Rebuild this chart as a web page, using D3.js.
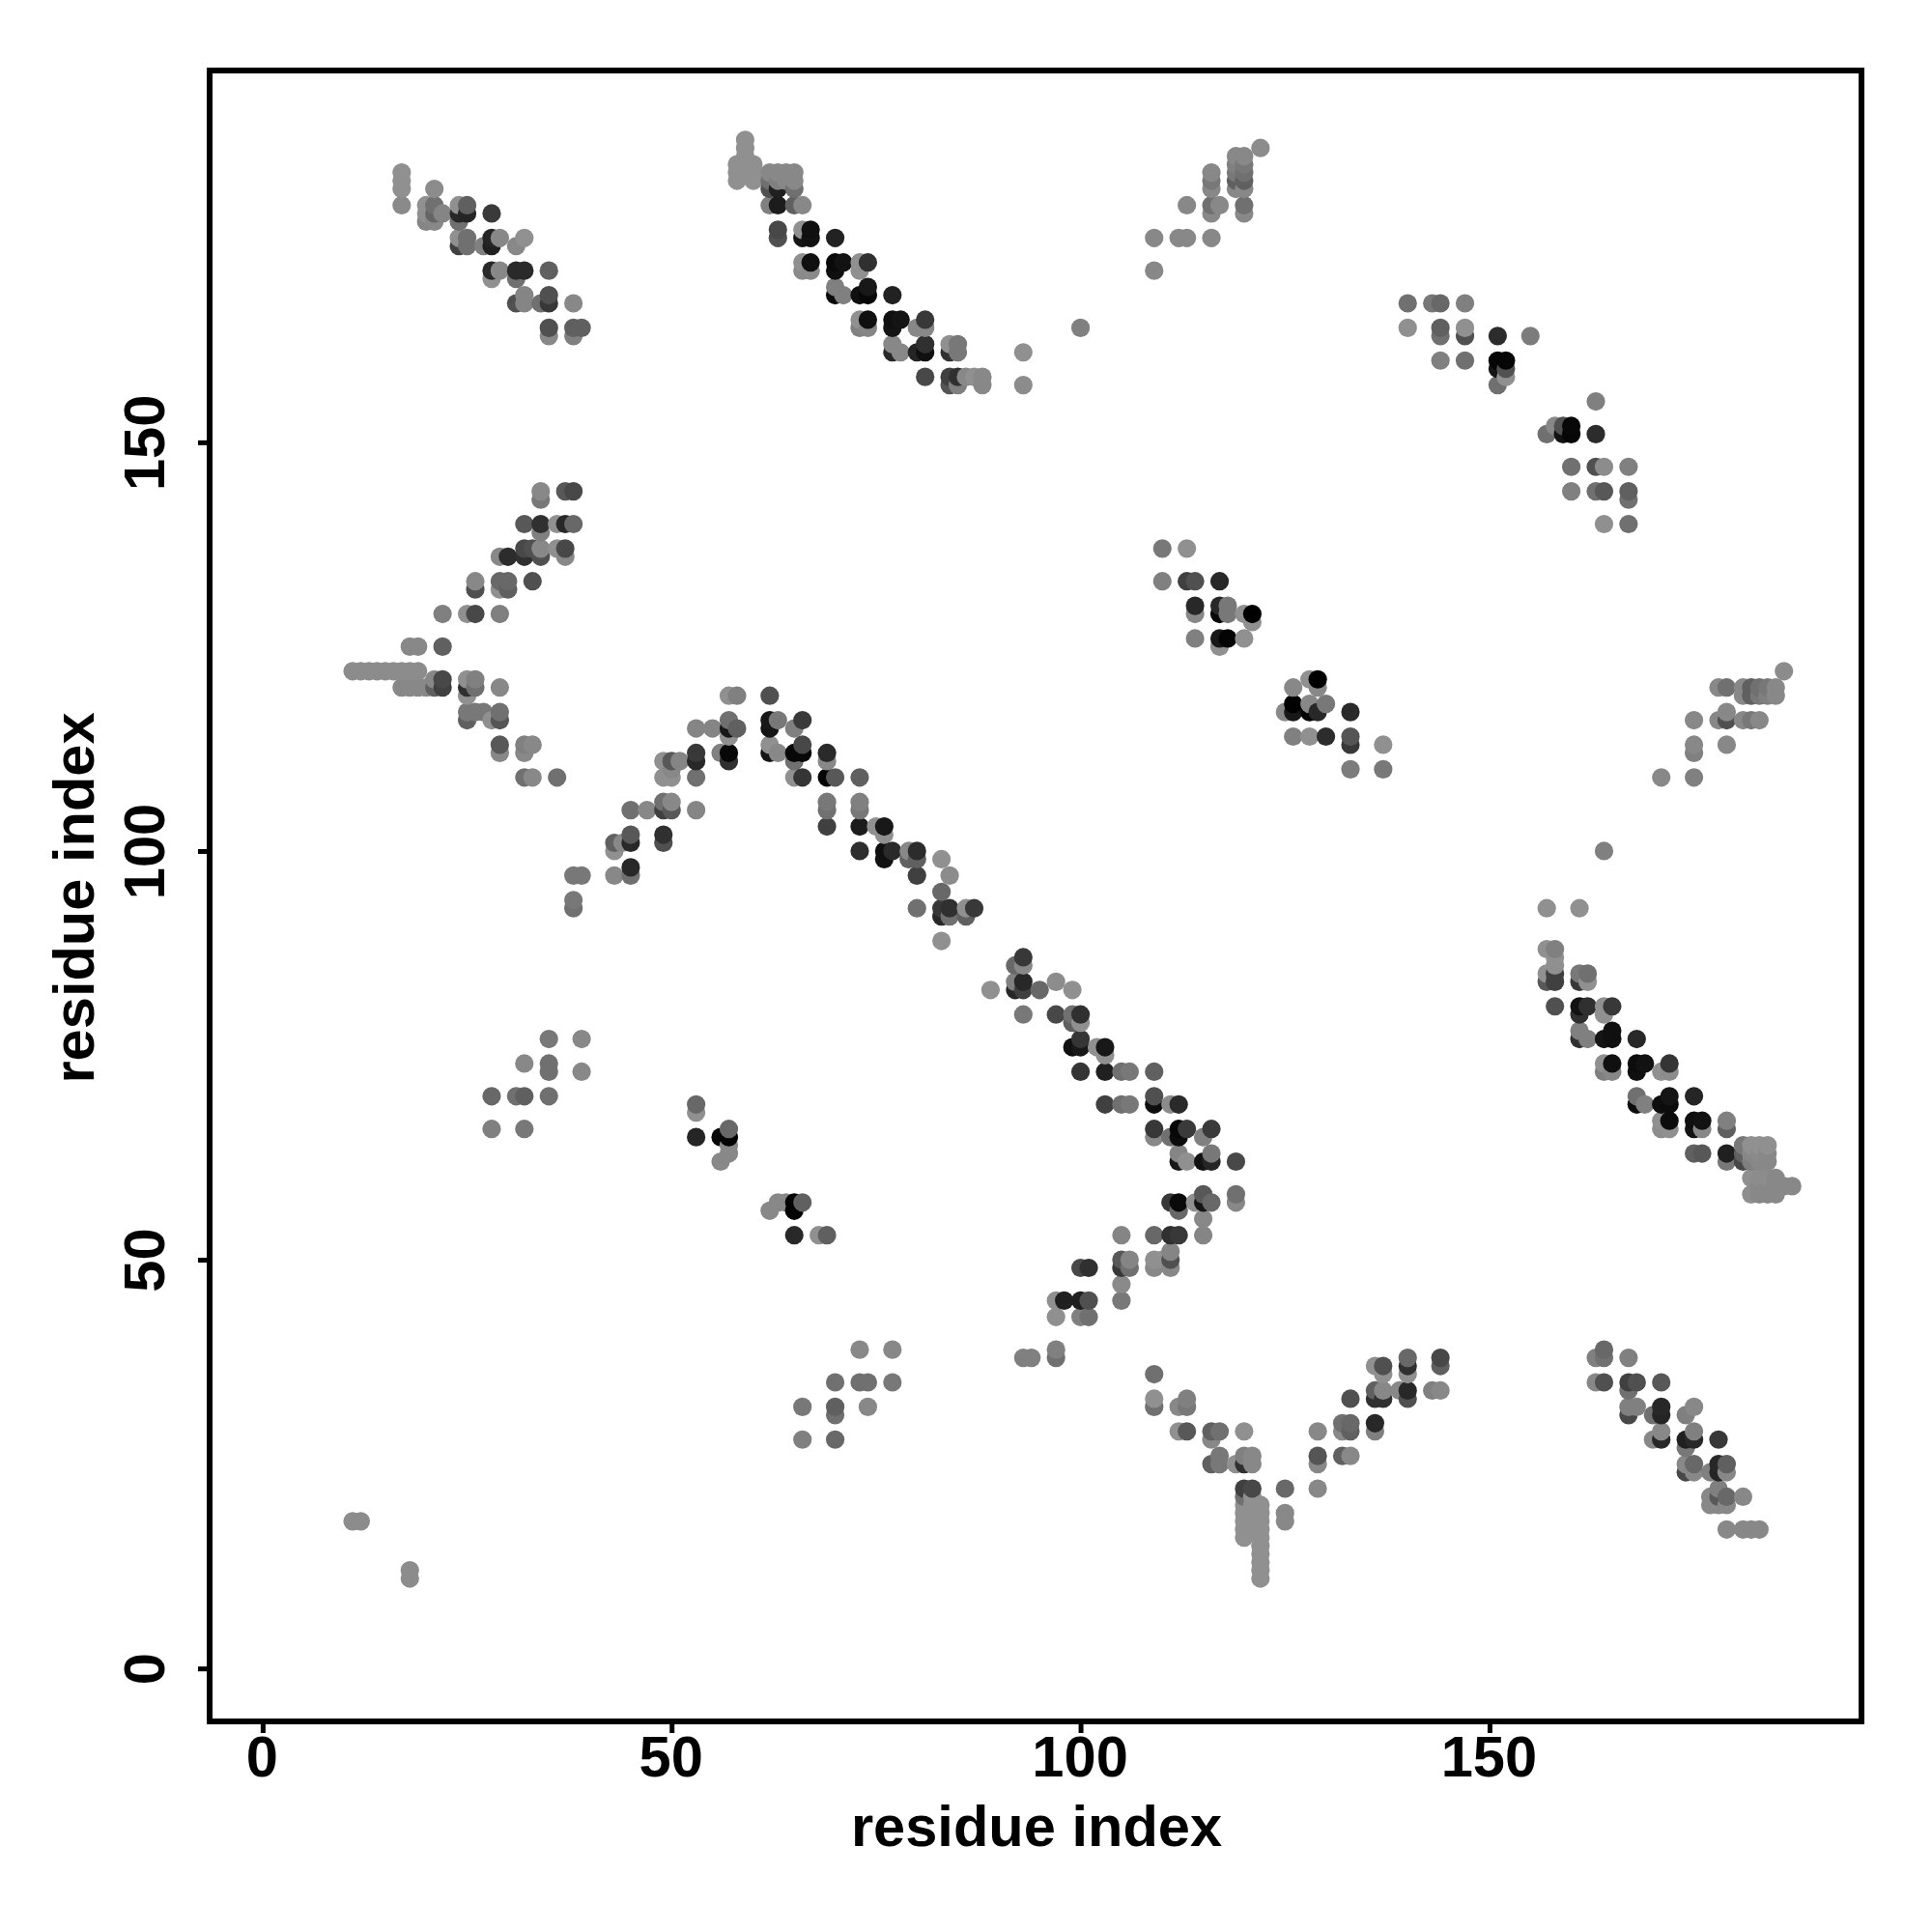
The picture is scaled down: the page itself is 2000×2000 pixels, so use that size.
<!DOCTYPE html>
<html><head><meta charset="utf-8">
<style>html,body{margin:0;padding:0;background:#fff}svg{display:block}text{font-family:"Liberation Sans",Arial,sans-serif;font-weight:bold;fill:#000}</style>
<script src="https://cdnjs.cloudflare.com/ajax/libs/d3/7.8.5/d3.min.js"></script>
</head><body><svg id="c" width="2000" height="2000"></svg>
<script>
// [residue x, residue y, grey score]
const blockTopLeft=[[17,183,0x90],[17,182,0x90],[17,181,0x90],[17,179,0x8a],[21,181,0x8c],[20,179,0x90],[20,178,0x90],[20,177,0x85],[21,179,0x70],[21,178,0x65],[21,177,0x88],[22,178,0x85],[24,179,0x90],[25,179,0x60],[24,178,0x28],[25,178,0x25],[24,177,0x70],[28,178,0x3a],[24,175,0x90],[25,175,0x70],[24,174,0x40],[25,174,0x70],[27,174,0x80],[28,175,0x25],[28,174,0x20],[29,175,0x88],[31,174,0x88],[32,175,0x90],[28,171,0x28],[28,170,0x90],[29,171,0x88],[31,171,0x2a],[32,171,0x2a],[31,170,0x70],[35,171,0x60],[32,168,0x85],[32,167,0x85],[31,167,0x50],[34,167,0x70],[35,168,0x50],[35,167,0x38],[38,167,0x88],[35,164,0x50],[35,163,0x88],[38,164,0x60],[39,164,0x60],[38,163,0x80]];
const blockTopMiddle=[[59,187,0x90],[59,186,0x90],[59,185,0x90],[58,184,0x90],[58,183,0x90],[58,182,0x90],[59,184,0x90],[59,183,0x90],[60,184,0x90],[60,183,0x90],[60,182,0x90],[62,183,0x88],[62,182,0x70],[62,181,0x50],[63,183,0x88],[63,182,0x80],[63,181,0x20],[64,183,0x88],[64,182,0x88],[65,183,0x88],[65,182,0x88],[65,181,0x70],[62,179,0x80],[63,179,0x1c],[65,179,0x60],[66,179,0x88],[63,176,0x48],[63,175,0x50],[66,176,0x90],[67,176,0x10],[66,175,0x15],[67,175,0x12],[70,175,0x22],[66,172,0x90],[67,172,0x10],[66,171,0x8a],[67,171,0x8a],[70,172,0x0a],[71,172,0x12],[70,171,0x10],[73,172,0x90],[74,172,0x30],[73,171,0x90],[70,169,0x80],[70,168,0x0a],[71,168,0x80],[74,169,0x18],[73,168,0x10],[74,168,0x08],[77,168,0x22],[73,165,0x90],[74,165,0x10],[73,164,0x80],[74,164,0x85],[77,165,0x10],[78,165,0x15],[77,164,0x15],[81,165,0x38],[80,164,0x88],[81,164,0x88],[77,162,0x88],[77,161,0x28],[78,161,0x88],[80,161,0x25],[81,162,0x30],[81,161,0x10],[84,162,0x90],[85,162,0x78],[85,161,0x78],[84,161,0x30],[93,161,0x90],[100,164,0x80],[81,158,0x48],[84,158,0x40],[85,158,0x30],[84,157,0x55],[85,157,0x80],[86,158,0x88],[87,158,0x90],[88,158,0x88],[88,157,0x88],[93,157,0x8c]];
const blockArch=[[36,109,0x70],[38,97,0x78],[39,97,0x78],[38,94,0x78],[38,93,0x70],[43,101,0x60],[44,101,0x88],[43,100,0x90],[45,102,0x58],[45,101,0x28],[43,97,0x88],[45,97,0x70],[45,98,0x28],[49,102,0x30],[49,101,0x50],[47,105,0x88],[45,105,0x70],[49,106,0x70],[50,106,0x88],[49,105,0x40],[50,105,0x58],[53,105,0x85],[49,111,0x90],[50,111,0x58],[51,111,0x85],[49,109,0x90],[50,110,0x88],[50,109,0x90],[53,112,0x38],[53,111,0x28],[53,109,0x70],[53,115,0x85],[55,115,0x85],[57,116,0x70],[57,115,0x18],[58,115,0x60],[57,114,0x90],[57,119,0x90],[58,119,0x80],[56,112,0x80],[57,112,0x08],[57,111,0x30],[62,119,0x50],[62,116,0x18],[62,115,0x15],[63,116,0x78],[65,115,0x80],[66,116,0x3a],[62,113,0x90],[62,112,0x15],[63,112,0x88],[65,112,0x08],[66,112,0x08],[66,113,0x48],[65,111,0x70],[69,112,0x2a],[69,111,0x88],[65,109,0x90],[66,109,0x35],[69,109,0x05],[70,109,0x58],[73,109,0x60],[69,106,0x78],[69,105,0x70],[69,103,0x40],[73,106,0x80],[73,105,0x78],[73,103,0x1c],[75,103,0x90],[76,102,0x90],[76,103,0x18],[73,100,0x2e],[76,100,0x10],[76,99,0x12],[77,100,0x2a],[79,100,0x88],[79,99,0x60],[80,100,0x2c],[80,99,0x60],[83,99,0x90],[84,97,0x8c],[83,95,0x68],[80,97,0x40],[80,93,0x70],[83,93,0x38],[83,92,0x28],[84,93,0x30],[84,92,0x70],[86,93,0x90],[86,92,0x60],[87,93,0x38],[83,89,0x90]];
const blockCentre=[[89,83,0x90],[92,86,0x68],[93,87,0x38],[93,86,0x88],[92,84,0x80],[92,83,0x28],[93,84,0x28],[93,83,0x40],[95,83,0x68],[97,84,0x8c],[99,83,0x90],[93,80,0x78],[97,80,0x48],[99,80,0x70],[99,79,0x60],[100,80,0x30],[100,79,0x90],[99,76,0x10],[100,76,0x18],[100,77,0x35],[102,76,0x90],[103,76,0x18],[103,75,0x90],[100,73,0x35],[103,73,0x20],[105,73,0x70],[106,73,0x78],[109,73,0x60],[103,69,0x40],[105,69,0x70],[106,69,0x78],[109,70,0x50],[109,69,0x0e],[111,69,0x8c],[112,69,0x2a],[109,66,0x38],[109,65,0x88],[111,65,0x70],[112,66,0x08],[112,65,0x0c],[113,66,0x3a],[115,65,0x80],[116,66,0x3a],[112,63,0x85],[112,62,0x18],[113,62,0x90],[115,62,0x12],[116,63,0x78],[116,62,0x25],[119,62,0x48],[111,57,0x38],[112,57,0x0a],[112,56,0x68],[114,57,0x90],[115,58,0x58],[115,57,0x15],[116,57,0x68],[119,58,0x70],[119,57,0x88],[115,55,0x88],[115,53,0x85],[105,53,0x85],[109,53,0x68],[111,53,0x30],[112,53,0x38],[105,50,0x58],[105,49,0x38],[106,50,0x85],[106,49,0x70],[109,50,0x90],[109,49,0x88],[110,50,0x90],[111,51,0x85],[111,50,0x50],[111,49,0x88],[100,49,0x48],[101,49,0x30],[105,47,0x8a],[105,45,0x78],[97,45,0x90],[98,45,0x20],[100,45,0x20],[101,45,0x50],[97,43,0x90],[100,43,0x80],[101,43,0x70],[93,38,0x80],[94,38,0x80],[97,39,0x80],[97,38,0x70]];
const blockValley=[[109,36,0x70],[109,33,0x90],[109,32,0x70],[112,32,0x88],[113,33,0x80],[113,32,0x78],[112,29,0x90],[113,29,0x58],[116,29,0x60],[117,29,0x70],[116,28,0x88],[116,25,0x60],[117,26,0x78],[117,25,0x78],[119,25,0x90],[120,26,0x80],[120,25,0x30],[121,26,0x88],[121,25,0x88],[120,29,0x90],[120,22,0x40],[121,22,0x48],[120,21,0x70],[121,21,0x90],[120,20,0x90],[120,19,0x90],[120,18,0x90],[120,17,0x90],[120,16,0x90],[121,20,0x90],[122,20,0x90],[122,19,0x90],[122,18,0x90],[122,17,0x90],[122,16,0x90],[122,15,0x90],[122,14,0x90],[122,13,0x90],[122,12,0x90],[122,11,0x90],[125,22,0x68],[125,19,0x88],[125,18,0x88],[129,29,0x88],[129,26,0x55],[129,25,0x88],[129,22,0x88],[132,26,0x60],[133,26,0x88],[132,30,0x70],[133,30,0x68],[132,29,0x88],[133,29,0x60],[133,33,0x50],[136,30,0x28],[136,29,0x80],[136,34,0x60],[136,33,0x30],[137,33,0x30],[137,34,0x88],[136,37,0x90],[137,37,0x50],[137,36,0x90],[139,34,0x88],[140,38,0x68],[140,37,0x30],[140,36,0x90],[140,34,0x28],[140,33,0x50],[143,34,0x80],[144,34,0x88],[144,38,0x48],[144,37,0x60]];
const blockLowerRight=[[157,88,0x90],[158,88,0x80],[158,87,0x90],[158,86,0x90],[157,85,0x90],[157,84,0x58],[158,85,0x40],[158,84,0x40],[161,85,0x78],[161,84,0x38],[162,85,0x70],[162,84,0x90],[158,81,0x50],[161,81,0x12],[161,80,0x30],[162,81,0x30],[164,81,0x90],[164,80,0x90],[165,81,0x38],[161,78,0x80],[161,77,0x30],[162,77,0x80],[164,77,0x15],[165,78,0x10],[165,77,0x10],[168,77,0x28],[164,74,0x90],[164,73,0x80],[165,73,0x88],[165,74,0x10],[168,74,0x0c],[169,74,0x12],[168,73,0x10],[172,74,0x35],[171,73,0x90],[172,73,0x8c],[168,70,0x70],[168,69,0x0c],[169,69,0x80],[172,70,0x15],[171,69,0x0e],[172,69,0x0c],[175,70,0x25],[171,67,0x90],[171,66,0x8c],[172,66,0x90],[172,67,0x0c],[175,67,0x10],[175,66,0x14],[176,67,0x12],[176,66,0x88],[179,67,0x80],[179,66,0x60],[175,63,0x60],[176,63,0x58],[179,63,0x20],[179,62,0x78],[181,64,0x78],[181,63,0x60],[181,62,0x48],[182,64,0x90],[182,63,0x88],[182,62,0x80],[183,64,0x90],[183,63,0x8a],[183,62,0x88],[184,64,0x90],[184,63,0x88],[184,62,0x88],[182,60,0x90],[183,60,0x8c],[184,60,0x8c],[185,60,0x88],[182,58,0x8e],[183,59,0x88],[184,59,0x88],[185,59,0x88],[186,59,0x88],[187,59,0x88],[183,58,0x88],[184,58,0x88],[185,58,0x88]];
const blockUpperRight=[[140,167,0x70],[143,167,0x78],[144,167,0x68],[147,167,0x80],[140,164,0x90],[144,163,0x70],[144,164,0x60],[147,163,0x50],[147,164,0x90],[151,163,0x2c],[155,163,0x7c],[144,160,0x80],[147,160,0x70],[151,157,0x70],[152,158,0x90],[152,159,0x50],[151,160,0x06],[151,159,0x15],[152,160,0x06],[163,155,0x80],[157,151,0x70],[158,152,0x88],[159,152,0x50],[159,151,0x12],[160,151,0x06],[160,152,0x08],[163,151,0x2c],[160,147,0x70],[163,147,0x50],[164,147,0x8c],[167,147,0x80],[160,144,0x80],[163,144,0x70],[164,144,0x58],[167,143,0x70],[167,144,0x60],[164,140,0x90],[167,140,0x70]];
const blockMidRight=[[110,137,0x78],[113,137,0x90],[110,133,0x80],[113,133,0x40],[114,133,0x50],[117,133,0x28],[114,129,0x88],[114,130,0x28],[117,129,0x08],[117,130,0x28],[118,130,0x78],[118,129,0x78],[120,129,0x90],[121,128,0x90],[121,129,0x00],[114,126,0x80],[117,125,0x90],[117,126,0x18],[118,126,0x04],[120,126,0x90],[125,117,0x88],[126,120,0x88],[126,117,0x18],[126,118,0x02],[128,121,0x90],[129,120,0x88],[129,121,0x00],[128,118,0x88],[128,117,0x02],[129,117,0x28],[130,118,0x78],[133,117,0x2a],[126,114,0x80],[128,114,0x90],[130,114,0x2c],[133,114,0x55],[133,113,0x38],[137,113,0x90],[133,110,0x7c],[137,110,0x78],[186,122,0x8c],[178,120,0x88],[179,120,0x70],[181,120,0x88],[182,120,0x60],[183,120,0x70],[184,120,0x78],[185,120,0x88],[181,119,0x88],[182,119,0x60],[183,119,0x78],[184,119,0x80],[185,119,0x88],[175,116,0x88],[178,116,0x88],[179,116,0x50],[179,117,0x88],[181,116,0x88],[182,116,0x78],[183,116,0x88],[175,113,0x88],[175,112,0x80],[179,113,0x88],[171,109,0x88],[175,109,0x80],[164,100,0x80],[157,93,0x90],[161,93,0x90]];
const blockLeft=[[34,144,0x88],[34,143,0x78],[37,144,0x58],[38,144,0x48],[32,140,0x58],[34,139,0x80],[34,140,0x30],[36,140,0x90],[37,140,0x28],[38,140,0x68],[32,137,0x48],[32,136,0x30],[34,136,0x50],[33,137,0x50],[34,137,0x88],[37,136,0x88],[36,137,0x90],[37,137,0x48],[29,136,0x88],[30,136,0x2c],[26,132,0x50],[26,133,0x88],[29,133,0x68],[30,133,0x68],[29,132,0x90],[30,132,0x60],[33,133,0x50],[22,129,0x80],[25,129,0x90],[26,129,0x48],[29,129,0x80],[18,125,0x88],[19,125,0x88],[22,125,0x60],[11,122,0x8c],[12,122,0x8c],[13,122,0x8c],[14,122,0x8c],[15,122,0x8c],[16,122,0x8c],[17,122,0x8c],[18,122,0x8c],[19,122,0x8c],[17,120,0x88],[18,120,0x88],[19,120,0x88],[20,120,0x88],[21,120,0x60],[22,120,0x40],[21,121,0x88],[22,121,0x48],[25,121,0x90],[26,121,0x80],[25,120,0x30],[26,120,0x70],[25,119,0x90],[29,120,0x88],[25,117,0x78],[26,117,0x78],[27,117,0x78],[25,116,0x60],[28,116,0x90],[29,117,0x70],[29,116,0x55],[29,113,0x58],[29,112,0x88],[32,113,0x80],[33,113,0x88],[32,112,0x88],[32,109,0x70],[33,109,0x88]];
const blockBottomRight=[[163,38,0x80],[164,39,0x68],[164,38,0x70],[167,38,0x80],[163,35,0x88],[164,35,0x50],[167,34,0x70],[167,35,0x40],[168,35,0x50],[171,35,0x58],[167,32,0x80],[167,31,0x48],[168,32,0x80],[170,31,0x70],[171,32,0x28],[171,31,0x25],[174,31,0x80],[175,32,0x88],[170,28,0x88],[171,28,0x28],[171,29,0x88],[174,28,0x20],[175,28,0x28],[174,27,0x78],[175,29,0x80],[178,28,0x38],[174,25,0x88],[174,24,0x48],[175,25,0x68],[175,24,0x88],[177,24,0x80],[178,25,0x28],[178,24,0x25],[179,25,0x60],[179,24,0x88],[177,21,0x88],[177,20,0x88],[178,22,0x80],[178,20,0x88],[178,21,0x58],[179,21,0x68],[179,20,0x88],[181,21,0x88],[179,17,0x88],[181,17,0x88],[182,17,0x88],[183,17,0x88]];
const blockSparse=[[35,77,0x78],[39,77,0x88],[32,74,0x88],[35,74,0x70],[35,73,0x70],[39,73,0x88],[28,70,0x68],[31,70,0x70],[32,70,0x60],[35,70,0x70],[28,66,0x80],[32,66,0x78],[53,68,0x90],[53,69,0x68],[53,65,0x25],[56,65,0x08],[57,65,0x04],[57,66,0x68],[57,64,0x88],[57,63,0x88],[56,62,0x88],[62,56,0x88],[63,57,0x88],[64,57,0x88],[65,56,0x04],[65,57,0x04],[66,57,0x60],[65,53,0x28],[68,53,0x90],[69,53,0x60],[73,39,0x88],[77,39,0x88],[70,35,0x70],[73,35,0x70],[74,35,0x70],[77,35,0x78],[66,32,0x78],[70,31,0x70],[70,32,0x60],[74,32,0x88],[66,28,0x80],[70,28,0x68],[11,18,0x8c],[12,18,0x8c],[18,12,0x8c],[18,11,0x8c]];
const blockTopRightWing=[[109,175,0x88],[109,171,0x88],[112,175,0x88],[113,175,0x88],[113,179,0x88],[116,175,0x88],[116,179,0x70],[116,178,0x88],[116,181,0x88],[116,182,0x78],[116,183,0x88],[117,179,0x88],[119,181,0x88],[119,182,0x60],[119,183,0x78],[119,184,0x80],[119,185,0x88],[120,178,0x88],[120,179,0x70],[120,181,0x88],[120,182,0x60],[120,183,0x70],[120,184,0x78],[120,185,0x88],[122,186,0x8c]];
const tickValues=[0,50,100,150];
const axisTitle="residue index";

const points=[...blockTopLeft,...blockTopMiddle,...blockArch,...blockCentre,...blockValley,...blockLowerRight,...blockUpperRight,...blockMidRight,...blockLeft,...blockBottomRight,...blockSparse,...blockTopRightWing]
  .slice().sort((a,b)=>d3.ascending(a[0],b[0])||d3.ascending(a[1],b[1]));

const L=217,R=1927,T=73,B=1782;
const x=d3.scaleLinear().domain([-6.48,195.48]).range([L,R]);
const y=d3.scaleLinear().domain([-6.48,195.48]).range([B,T]);
const grey=d3.scaleLinear().domain([0,255]).range(["#000","#fff"]);
const svg=d3.select("#c");
svg.append("rect").attr("width",2000).attr("height",2000).attr("fill","#fff");
svg.append("g").selectAll("circle").data(points).join("circle")
  .attr("cx",d=>x(d[0])).attr("cy",d=>y(d[1])).attr("r",9.6).attr("fill",d=>grey(d[2]));
svg.append("rect").attr("x",L).attr("y",T).attr("width",R-L).attr("height",B-T).attr("fill","none").attr("stroke","#000").attr("stroke-width",6);
const gx=svg.append("g").attr("transform",`translate(0,${B})`).call(d3.axisBottom(x).tickValues(tickValues).tickSize(12).tickFormat(d3.format("d")));
const gy=svg.append("g").attr("transform",`translate(${L},0)`).call(d3.axisLeft(y).tickValues(tickValues).tickSize(12).tickFormat(d3.format("d")));
[gx,gy].forEach(g=>{g.select(".domain").remove();g.selectAll("line").attr("stroke","#000").attr("stroke-width",5);g.selectAll("text").attr("font-size",59.6).style("font-family",'"Liberation Sans"').style("font-weight","bold");});
gx.selectAll("text").attr("dy",null).attr("text-anchor","middle").attr("y",57).attr("x",-1);
gy.selectAll("text").attr("dy",null).attr("x",null).attr("y",null).attr("text-anchor","middle")
  .attr("transform",`translate(${170-L},0) rotate(-90)`);
svg.append("text").attr("x",(L+R)/2+1).attr("y",1911).attr("text-anchor","middle").attr("font-size",59.6).text(axisTitle);
svg.append("text").attr("transform",`translate(97,${(T+B)/2+2}) rotate(-90)`).attr("text-anchor","middle").attr("font-size",59.6).text(axisTitle);
</script></body></html>
